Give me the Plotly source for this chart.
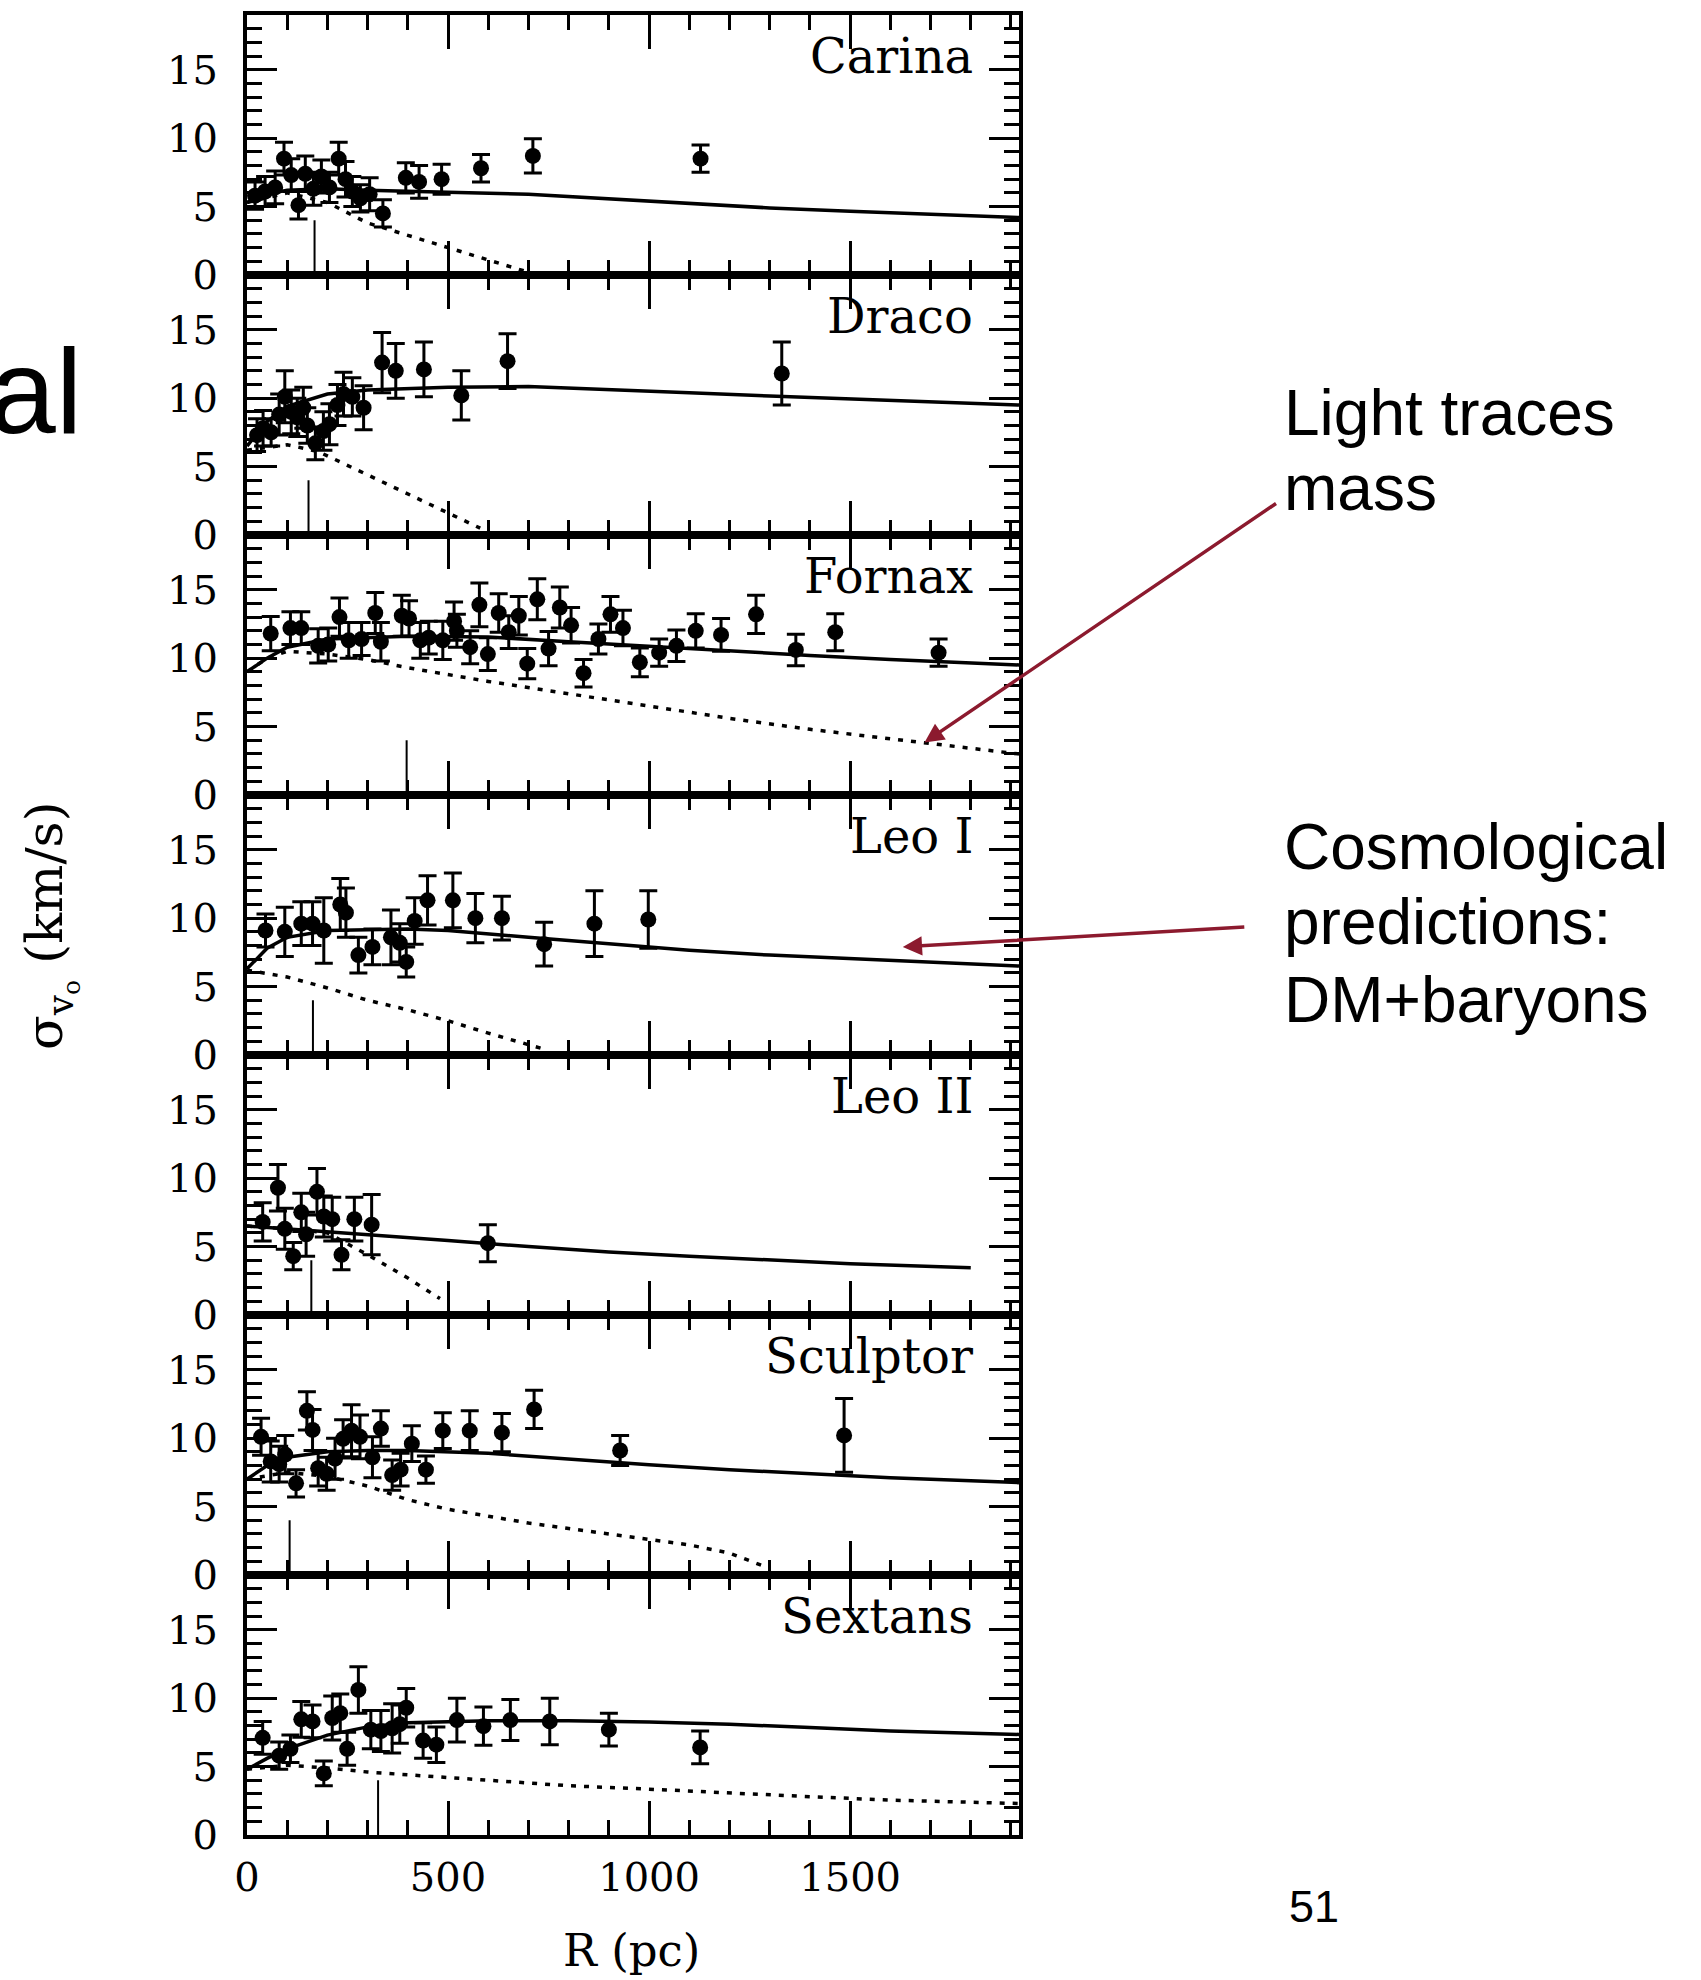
import plotly.graph_objects as go

# ---------------- data ----------------
galaxies = ["Carina", "Draco", "Fornax", "Leo I", "Leo II", "Sculptor", "Sextans"]

# observed velocity dispersion profiles: radius (pc), sigma (km/s), 1-sigma error
carina_r = [20, 45, 70, 92, 110, 128, 145, 165, 185, 205, 228, 245, 262, 282, 305, 338, 395, 428, 484, 582, 711, 1128]
carina_sigma = [5.8, 6.1, 6.4, 8.5, 7.3, 5.1, 7.4, 6.3, 7.2, 6.4, 8.5, 7.0, 6.1, 5.6, 5.9, 4.5, 7.1, 6.8, 7.0, 7.8, 8.7, 8.5]
carina_err = [1.0, 1.1, 1.2, 1.2, 1.2, 1.0, 1.3, 1.2, 1.2, 1.1, 1.2, 1.3, 1.1, 1.0, 1.2, 1.0, 1.1, 1.2, 1.1, 1.0, 1.25, 1.0]

draco_r = [25, 40, 60, 80, 94, 110, 125, 140, 150, 170, 190, 205, 225, 240, 262, 290, 336, 370, 440, 533, 648, 1330]
draco_sigma = [7.3, 7.8, 7.5, 8.8, 10.1, 9.0, 8.6, 9.3, 8.0, 6.7, 7.6, 8.1, 9.5, 10.3, 10.1, 9.3, 12.6, 12.0, 12.1, 10.2, 12.7, 11.8]
draco_err = [1.2, 1.3, 1.0, 1.5, 1.9, 1.6, 1.4, 1.5, 1.3, 1.2, 1.4, 1.5, 1.5, 1.6, 1.4, 1.6, 2.2, 2.0, 2.0, 1.8, 2.0, 2.3]

fornax_r = [59, 108, 135, 177, 202, 230, 253, 285, 319, 333, 385, 403, 431, 452, 487, 515, 522, 555, 578, 599,
            626, 651, 676, 697, 722, 750, 778, 806, 837, 874, 904, 935, 977, 1025, 1068, 1116, 1179, 1266, 1365, 1463, 1720]
fornax_sigma = [11.8, 12.2, 12.2, 10.9, 11.0, 13.0, 11.3, 11.4, 13.3, 11.2, 13.1, 12.9, 11.3, 11.5, 11.3, 12.7, 12.0, 10.8, 13.9, 10.3,
                13.3, 11.9, 13.1, 9.6, 14.3, 10.7, 13.7, 12.4, 8.9, 11.4, 13.2, 12.2, 9.7, 10.4, 10.9, 12.0, 11.7, 13.2, 10.6, 11.9, 10.4]
fornax_err = [1.25, 1.2, 1.2, 1.25, 1.2, 1.4, 1.3, 1.2, 1.5, 1.4, 1.5, 1.3, 1.3, 1.2, 1.4, 1.4, 1.2, 1.2, 1.6, 1.2,
              1.4, 1.2, 1.4, 1.1, 1.5, 1.25, 1.5, 1.3, 1.0, 1.1, 1.3, 1.3, 1.05, 1.0, 1.15, 1.25, 1.2, 1.4, 1.15, 1.35, 1.0]

leo1_r = [46, 94, 135, 163, 191, 232, 246, 277, 312, 358, 380, 396, 417, 449, 512, 568, 634, 739, 864, 998]
leo1_sigma = [9.1, 9.0, 9.6, 9.6, 9.1, 11.0, 10.4, 7.3, 7.9, 8.6, 8.2, 6.8, 9.8, 11.3, 11.3, 10.0, 10.0, 8.1, 9.6, 9.9]
leo1_err = [1.2, 1.8, 1.6, 1.6, 2.4, 1.9, 1.8, 1.3, 1.3, 2.0, 1.4, 1.1, 1.7, 1.8, 2.0, 1.8, 1.6, 1.6, 2.4, 2.1]

leo2_r = [39, 77, 94, 115, 135, 147, 174, 191, 212, 235, 267, 310, 599]
leo2_sigma = [6.8, 9.3, 6.3, 4.3, 7.5, 5.9, 9.0, 7.2, 7.0, 4.4, 7.0, 6.6, 5.25]
leo2_err = [1.4, 1.7, 1.5, 1.0, 1.4, 1.6, 1.7, 1.5, 1.6, 1.1, 1.6, 2.2, 1.35]

sculptor_r = [35, 59, 80, 95, 122, 149, 163, 177, 198, 219, 239, 260, 281, 312, 333, 361, 382, 410, 445, 487, 554, 634, 714, 928, 1485]
sculptor_sigma = [10.1, 8.3, 8.1, 8.8, 6.7, 12.0, 10.6, 7.8, 7.4, 8.5, 9.95, 10.55, 10.1, 8.6, 10.7, 7.3, 7.7, 9.6, 7.7, 10.55, 10.55, 10.4, 12.1, 9.1, 10.2]
sculptor_err = [1.35, 1.5, 1.3, 1.4, 1.0, 1.4, 1.5, 1.3, 1.2, 1.5, 1.4, 1.9, 1.6, 1.5, 1.3, 1.1, 1.2, 1.3, 1.0, 1.3, 1.45, 1.4, 1.4, 1.1, 2.7]

sextans_r = [39, 80, 108, 135, 163, 191, 212, 232, 249, 277, 308, 333, 361, 380, 396, 438, 471, 522, 588, 655, 753, 900, 1127]
sextans_sigma = [7.1, 5.8, 6.3, 8.45, 8.3, 4.5, 8.55, 8.9, 6.3, 10.6, 7.7, 7.6, 7.8, 8.1, 9.3, 6.9, 6.6, 8.4, 7.95, 8.4, 8.3, 7.7, 6.4]
sextans_err = [1.2, 1.0, 1.0, 1.3, 1.2, 0.9, 1.6, 1.4, 1.2, 1.7, 1.4, 1.5, 1.8, 1.4, 1.4, 1.3, 1.3, 1.6, 1.4, 1.5, 1.7, 1.2, 1.2]

# cosmological DM+baryons model (solid)
carina_dm_r = [0, 50, 100, 200, 300, 400, 500, 700, 900, 1100, 1300, 1500, 1700, 1920]
carina_dm_sigma = [5.3, 5.9, 6.2, 6.3, 6.2, 6.1, 6.05, 5.9, 5.55, 5.2, 4.9, 4.65, 4.45, 4.2]
draco_dm_r = [0, 50, 100, 200, 300, 500, 700, 900, 1100, 1300, 1500, 1700, 1920]
draco_dm_sigma = [6.5, 8.3, 9.4, 10.3, 10.6, 10.8, 10.85, 10.65, 10.4, 10.15, 9.95, 9.75, 9.5]
fornax_dm_r = [0, 50, 100, 200, 400, 600, 800, 1000, 1200, 1400, 1600, 1920]
fornax_dm_sigma = [9.0, 10.0, 10.8, 11.4, 11.6, 11.55, 11.2, 10.85, 10.5, 10.2, 9.9, 9.5]
leo1_dm_r = [0, 50, 100, 200, 400, 500, 700, 900, 1100, 1300, 1500, 1700, 1920]
leo1_dm_sigma = [6.3, 7.8, 8.6, 9.1, 9.2, 9.1, 8.6, 8.1, 7.65, 7.3, 7.05, 6.8, 6.5]
leo2_dm_r = [0, 100, 200, 300, 500, 700, 900, 1100, 1300, 1500, 1800]
leo2_dm_sigma = [6.5, 6.3, 6.1, 5.85, 5.45, 5.0, 4.6, 4.3, 4.0, 3.75, 3.45]
sculptor_dm_r = [0, 50, 100, 200, 300, 400, 600, 800, 1000, 1200, 1400, 1600, 1920]
sculptor_dm_sigma = [7.0, 8.0, 8.6, 9.0, 9.1, 9.1, 8.9, 8.45, 8.05, 7.7, 7.4, 7.1, 6.75]
sextans_dm_r = [0, 50, 100, 200, 300, 400, 600, 800, 1000, 1200, 1400, 1600, 1920]
sextans_dm_sigma = [4.8, 5.6, 6.3, 7.3, 7.9, 8.2, 8.35, 8.35, 8.25, 8.1, 7.85, 7.6, 7.35]

# light-traces-mass model (dotted)
carina_lt_r = [0, 100, 200, 300, 400, 500, 600, 700]
carina_lt_sigma = [5.3, 6.0, 5.3, 3.8, 2.9, 2.0, 1.1, 0.2]
draco_lt_r = [0, 100, 177, 300, 400, 500, 580]
draco_lt_sigma = [6.2, 6.6, 6.1, 4.4, 3.0, 1.6, 0.5]
fornax_lt_r = [0, 50, 100, 200, 300, 400, 600, 800, 1000, 1200, 1400, 1600, 1800, 1920]
fornax_lt_sigma = [9.0, 10.0, 10.5, 10.3, 9.9, 9.3, 8.3, 7.4, 6.5, 5.6, 4.8, 4.1, 3.4, 3.0]
leo1_lt_r = [0, 100, 200, 300, 400, 500, 600, 700, 730]
leo1_lt_sigma = [6.2, 5.7, 4.9, 4.0, 3.3, 2.5, 1.6, 0.8, 0.5]
leo2_lt_r = [0, 100, 200, 250, 300, 400, 480]
leo2_lt_sigma = [6.5, 6.3, 6.0, 5.2, 4.4, 2.7, 1.2]
sculptor_lt_r = [0, 100, 200, 300, 400, 500, 600, 700, 800, 900, 1000, 1100, 1200, 1290]
sculptor_lt_sigma = [7.0, 7.5, 7.2, 6.5, 5.5, 4.8, 4.3, 3.8, 3.4, 3.0, 2.6, 2.2, 1.6, 0.6]
sextans_lt_r = [0, 100, 200, 300, 400, 600, 800, 1000, 1200, 1400, 1600, 1920]
sextans_lt_sigma = [4.8, 5.1, 4.9, 4.6, 4.4, 4.0, 3.6, 3.35, 3.05, 2.8, 2.55, 2.3]

# radial position of the vertical marker in each panel (pc)
marker_r = [168, 153, 397, 164, 160, 106, 326]
marker_height = 4.0

x_ticks = [0, 500, 1000, 1500]
y_ticks = [0, 5, 10, 15]

# ---------------- layout helpers ----------------
W, H = 1701, 1980
FRAME_L, FRAME_R = 247, 1019
FRAME_T, PANEL_H = 15, 260
R_MAX, Y_MAX = 1920, 19


def px(x):
    return x / W


def py(y):
    return 1 - y / H


obs = [
    (carina_r, carina_sigma, carina_err),
    (draco_r, draco_sigma, draco_err),
    (fornax_r, fornax_sigma, fornax_err),
    (leo1_r, leo1_sigma, leo1_err),
    (leo2_r, leo2_sigma, leo2_err),
    (sculptor_r, sculptor_sigma, sculptor_err),
    (sextans_r, sextans_sigma, sextans_err),
]
dm_models = [
    (carina_dm_r, carina_dm_sigma), (draco_dm_r, draco_dm_sigma), (fornax_dm_r, fornax_dm_sigma),
    (leo1_dm_r, leo1_dm_sigma), (leo2_dm_r, leo2_dm_sigma), (sculptor_dm_r, sculptor_dm_sigma),
    (sextans_dm_r, sextans_dm_sigma),
]
lt_models = [
    (carina_lt_r, carina_lt_sigma), (draco_lt_r, draco_lt_sigma), (fornax_lt_r, fornax_lt_sigma),
    (leo1_lt_r, leo1_lt_sigma), (leo2_lt_r, leo2_lt_sigma), (sculptor_lt_r, sculptor_lt_sigma),
    (sextans_lt_r, sextans_lt_sigma),
]

SERIF = "DejaVu Serif"
SANS = "Liberation Sans"

fig = go.Figure()
layout = dict(
    width=W, height=H, autosize=False,
    margin=dict(l=0, r=0, t=0, b=0, pad=0, autoexpand=False),
    paper_bgcolor="white", plot_bgcolor="white",
    showlegend=False,
)
annotations = []

for i, name in enumerate(galaxies):
    k = i + 1
    xa = "x" if k == 1 else f"x{k}"
    ya = "y" if k == 1 else f"y{k}"
    top = FRAME_T + i * PANEL_H
    bottom = top + PANEL_H

    r, s, e = obs[i]
    dr, ds = dm_models[i]
    lr, ls = lt_models[i]

    fig.add_trace(go.Scatter(x=[marker_r[i], marker_r[i]], y=[0, marker_height], mode="lines",
                             line=dict(color="black", width=2), xaxis=xa, yaxis=ya, hoverinfo="skip"))
    fig.add_trace(go.Scatter(x=lr, y=ls, mode="lines",
                             line=dict(color="black", width=3.5, dash="5px,8px"), xaxis=xa, yaxis=ya))
    fig.add_trace(go.Scatter(x=dr, y=ds, mode="lines",
                             line=dict(color="black", width=3.5), xaxis=xa, yaxis=ya))
    fig.add_trace(go.Scatter(x=r, y=s, mode="markers",
                             marker=dict(color="black", size=16, symbol="circle"),
                             error_y=dict(type="data", array=e, color="black", thickness=3, width=9),
                             xaxis=xa, yaxis=ya))

    layout[f"xaxis{'' if k == 1 else k}"] = dict(
        domain=[px(FRAME_L), px(FRAME_R)], anchor=ya, range=[0, R_MAX], automargin=False,
        tickmode="array", tickvals=x_ticks, ticktext=[str(v) for v in x_ticks],
        showticklabels=(k == 7), ticks="inside", ticklen=34, tickwidth=3, tickcolor="black",
        minor=dict(dtick=100, tick0=0, ticks="inside", ticklen=15, tickwidth=2.5, tickcolor="black"),
        showline=True, linecolor="black", linewidth=4, mirror="ticks",
        showgrid=False, zeroline=False,
        tickfont=dict(family=SERIF, size=40, color="black"), ticklabelstandoff=4,
    )
    layout[f"yaxis{'' if k == 1 else k}"] = dict(
        domain=[py(bottom), py(top)], anchor=xa, range=[0, Y_MAX], automargin=False,
        tickmode="array", tickvals=y_ticks, ticktext=[str(v) for v in y_ticks],
        ticks="inside", ticklen=30, tickwidth=3, tickcolor="black",
        minor=dict(dtick=1, tick0=0, ticks="inside", ticklen=15, tickwidth=2.5, tickcolor="black"),
        showline=True, linecolor="black", linewidth=4, mirror="ticks",
        showgrid=False, zeroline=False,
        tickfont=dict(family=SERIF, size=40, color="black"), ticklabelstandoff=17,
    )
    annotations.append(dict(x=1807, y=16.0, xref=xa, yref=ya, text=name, showarrow=False,
                            xanchor="right", yanchor="middle", borderpad=0,
                            font=dict(family=SERIF, size=48, color="black")))

# axis titles
annotations.append(dict(x=px(631), y=py(1950), xref="paper", yref="paper", text="R (pc)",
                        showarrow=False, xanchor="center", yanchor="middle", borderpad=0,
                        font=dict(family=SERIF, size=45, color="black")))
annotations.append(dict(x=px(50), y=py(926), xref="paper", yref="paper",
                        text="σ<sub>v<sub>o</sub></sub> (km/s)", textangle=-90,
                        showarrow=False, xanchor="center", yanchor="middle",
                        font=dict(family=SERIF, size=51, color="black")))

# side notes and arrows
DARK_RED = "#8C1A2E"
side_lines = [("Light traces", 413), ("mass", 488),
              ("Cosmological", 847), ("predictions:", 922), ("DM+baryons", 1000)]
for txt, yc in side_lines:
    annotations.append(dict(x=px(1283), y=py(yc), xref="paper", yref="paper", text=txt,
                            showarrow=False, xanchor="left", yanchor="middle", borderpad=0,
                            font=dict(family=SANS, size=64, color="black")))

annotations.append(dict(x=1685, y=3.84, xref="x3", yref="y3", text="", showarrow=True,
                        ax=353, ay=-240, arrowhead=2, arrowsize=1.1, arrowwidth=3.5,
                        arrowcolor=DARK_RED, standoff=0, startstandoff=0))
annotations.append(dict(x=1631, y=7.9, xref="x4", yref="y4", text="", showarrow=True,
                        ax=343, ay=-20, arrowhead=2, arrowsize=1.1, arrowwidth=3.5,
                        arrowcolor=DARK_RED, standoff=0, startstandoff=0))

annotations.append(dict(x=px(83), y=py(391), xref="paper", yref="paper", text="al",
                        showarrow=False, xanchor="right", yanchor="middle", borderpad=0,
                        font=dict(family=SANS, size=120, color="black")))
annotations.append(dict(x=px(1314), y=py(1906), xref="paper", yref="paper", text="51",
                        showarrow=False, xanchor="center", yanchor="middle", borderpad=0,
                        font=dict(family=SANS, size=45, color="black")))

layout["annotations"] = annotations
fig.update_layout(**layout)
fig.write_html("out.html")
